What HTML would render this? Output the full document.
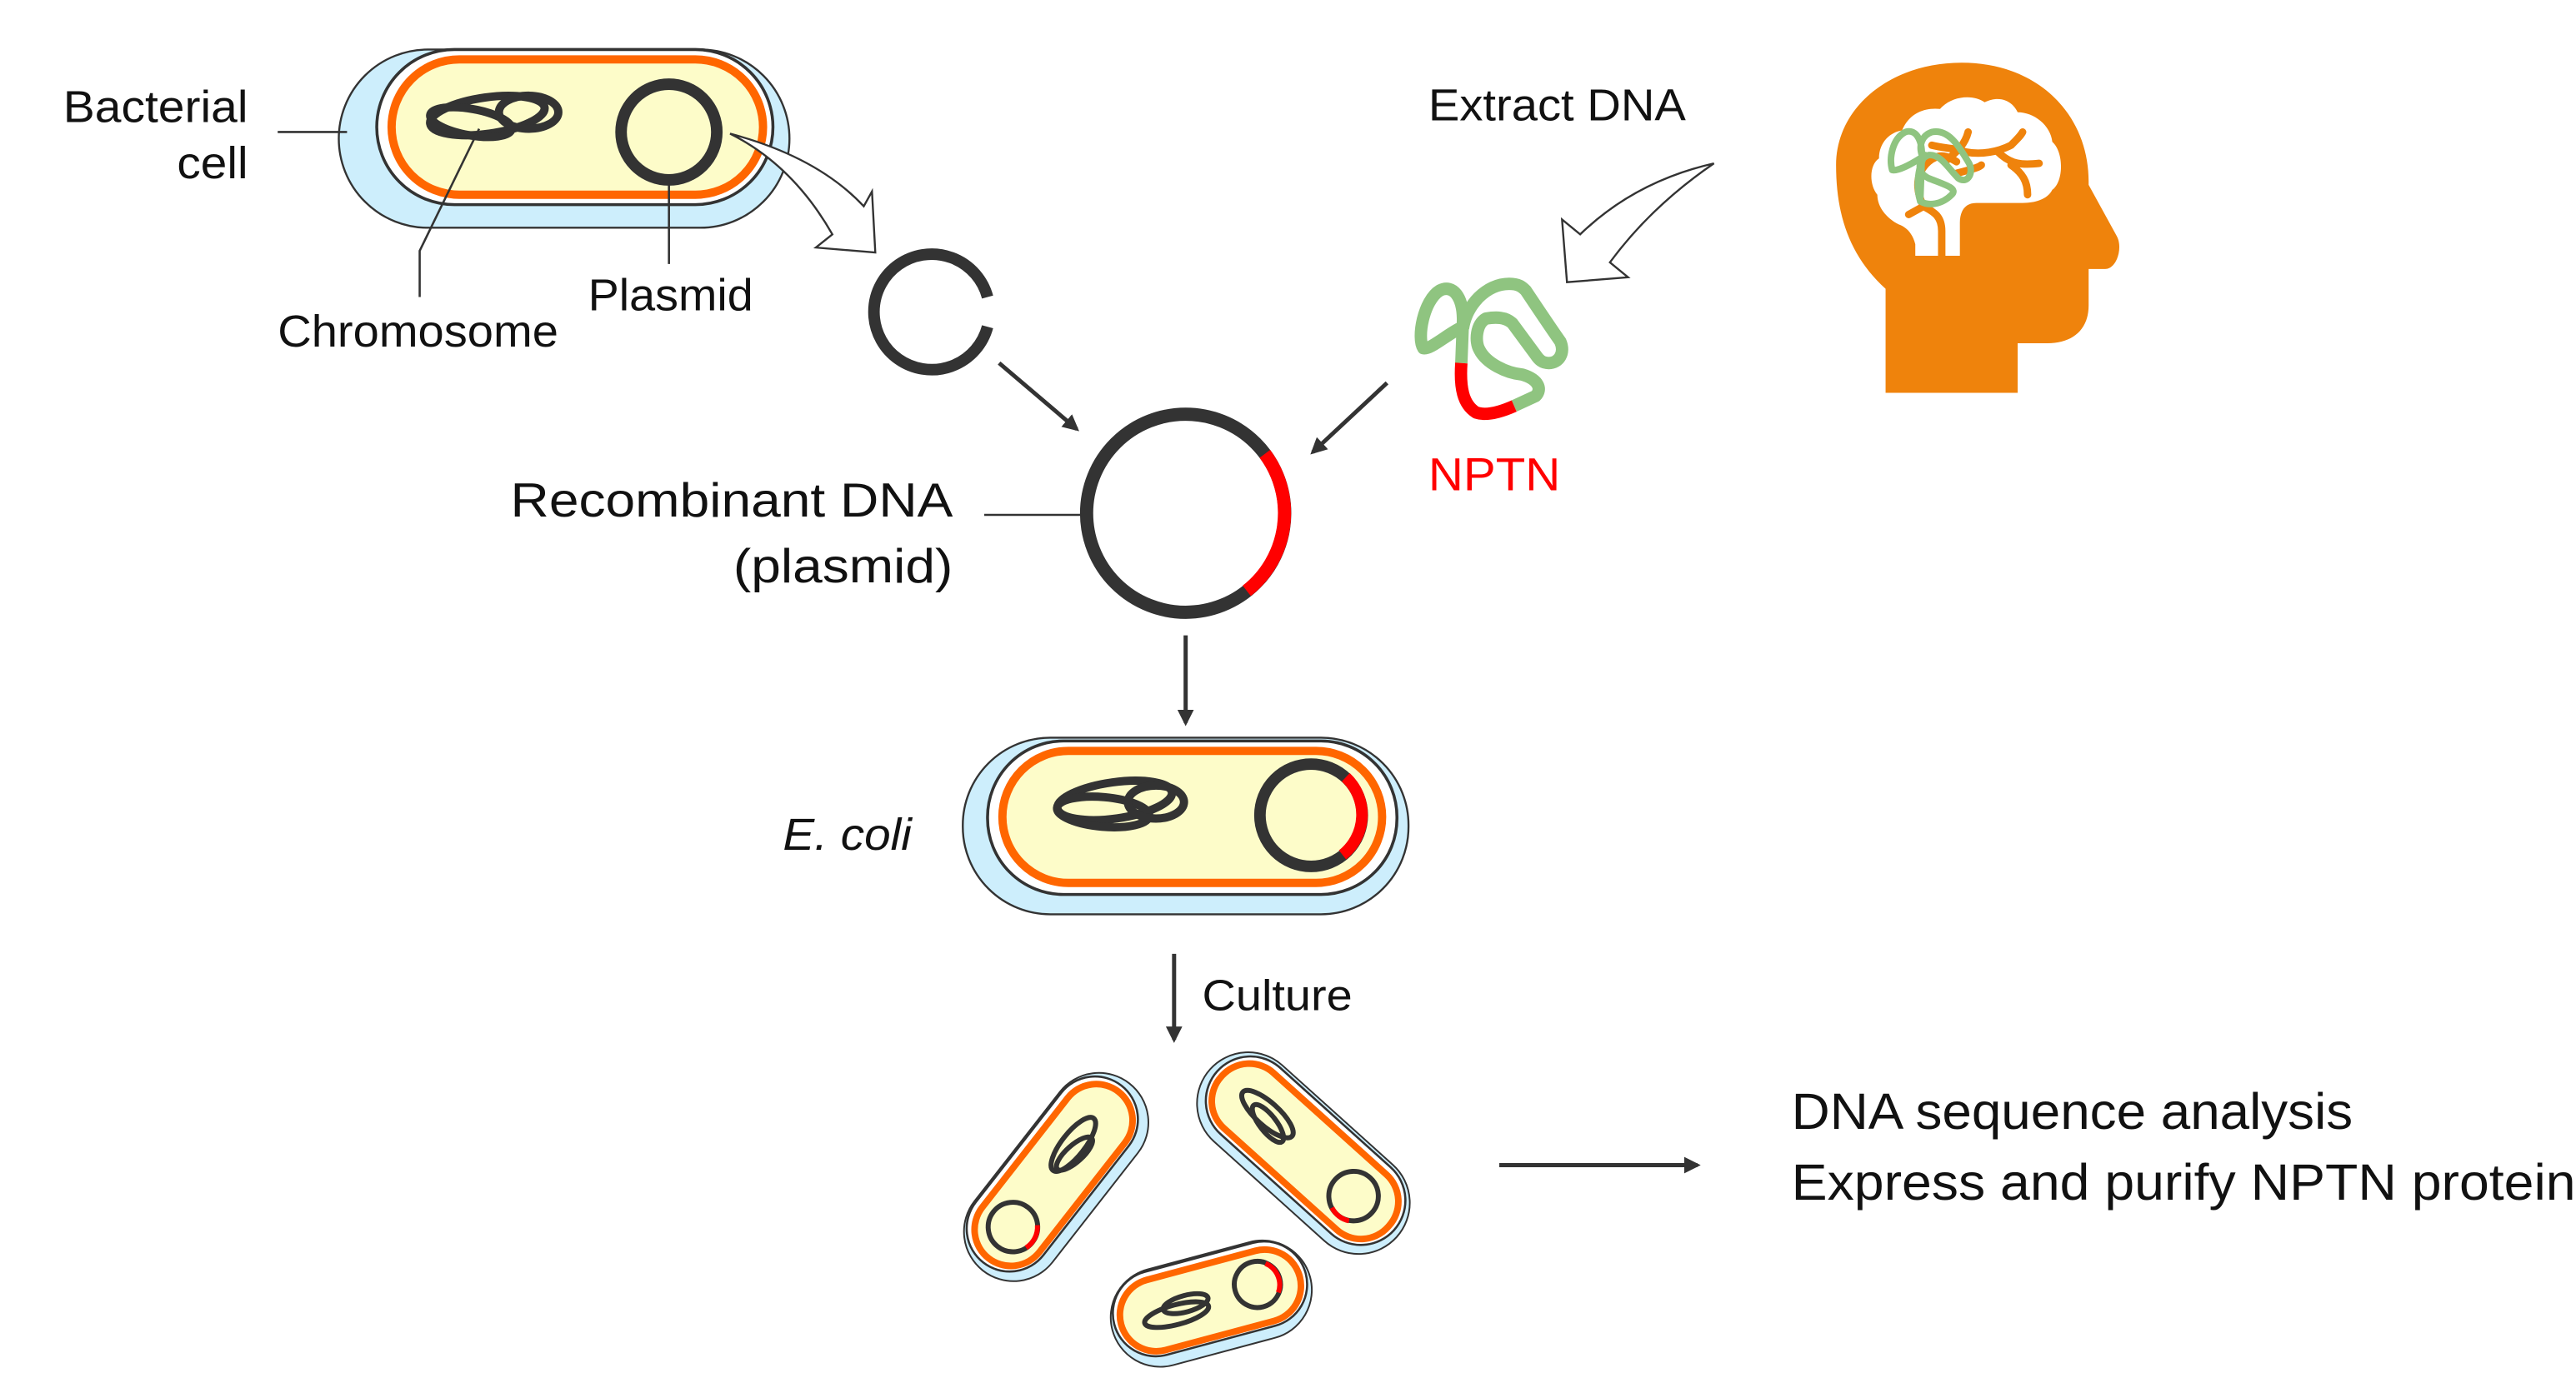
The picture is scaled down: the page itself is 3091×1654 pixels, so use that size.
<!DOCTYPE html>
<html><head><meta charset="utf-8"><style>
html,body{margin:0;padding:0;background:#fff;}
svg{display:block;}
text{font-family:"Liberation Sans",sans-serif;fill:#111;}
</style></head><body>
<svg width="3091" height="1654" viewBox="0 0 1560 835" xmlns="http://www.w3.org/2000/svg">
<defs>
<marker id="ah" markerWidth="10" markerHeight="10" refX="8" refY="5" orient="auto" markerUnits="userSpaceOnUse"><path d="M0,0 L10,5 L0,10 Z" fill="#333"/></marker>
</defs>

<!-- Top bacterial cell -->
<g>
<rect x="205" y="30" width="273" height="108" rx="54" fill="#cdeefc" stroke="#333" stroke-width="1.2"/>
<rect x="228" y="30" width="240" height="94" rx="47" fill="#fff" stroke="#333" stroke-width="1.8"/>
<rect x="237" y="36" width="225" height="82" rx="41" fill="#fdfcc9" stroke="#ff6600" stroke-width="5"/>
<g fill="none" stroke="#333" stroke-width="5">
<ellipse cx="295" cy="70" rx="35" ry="11" transform="rotate(-8 295 70)"/>
<ellipse cx="285" cy="74" rx="25" ry="8" transform="rotate(10 285 74)"/>
<ellipse cx="320" cy="68" rx="18" ry="10"/>
</g>
<circle cx="405" cy="80" r="29" fill="none" stroke="#333" stroke-width="7"/>
</g>
<text x="38" y="74" font-size="27" textLength="112" lengthAdjust="spacingAndGlyphs">Bacterial</text>
<text x="107" y="108" font-size="27" textLength="43" lengthAdjust="spacingAndGlyphs">cell</text>
<line x1="168" y1="80" x2="210" y2="80" stroke="#333" stroke-width="1.3"/>
<text x="168" y="210" font-size="27" textLength="170" lengthAdjust="spacingAndGlyphs">Chromosome</text>
<polyline points="254,180 254,152 290,78" fill="none" stroke="#333" stroke-width="1.3"/>
<text x="356" y="188" font-size="27" textLength="100" lengthAdjust="spacingAndGlyphs">Plasmid</text>
<line x1="405" y1="160" x2="405" y2="110" stroke="#333" stroke-width="1.3"/>

<!-- curved hollow arrow 1 -->
<path d="M442,81 Q495,95 523,125 L528,116 L530,153 L494,150 L504,142 Q480,100 442,81 Z" fill="#fff" stroke="#333" stroke-width="1.2"/>
<!-- open plasmid -->
<path d="M598,180 A35,35 0 1,0 598,198" fill="none" stroke="#333" stroke-width="7"/>
<line x1="605" y1="220" x2="652" y2="260" stroke="#333" stroke-width="2.5" marker-end="url(#ah)"/>

<!-- recombinant plasmid -->
<g fill="none" stroke-width="8">
<circle cx="718" cy="311" r="60" stroke="#333"/>
<path d="M766,275 A60,60 0 0,1 755,358" stroke="#f00"/>
</g>
<text x="309" y="313" font-size="29" textLength="268" lengthAdjust="spacingAndGlyphs">Recombinant DNA</text>
<text x="444" y="353" font-size="29" textLength="133" lengthAdjust="spacingAndGlyphs">(plasmid)</text>
<line x1="596" y1="312" x2="655" y2="312" stroke="#333" stroke-width="1.3"/>
<line x1="840" y1="232" x2="795" y2="274" stroke="#333" stroke-width="2.5" marker-end="url(#ah)"/>

<!-- extract DNA -->
<text x="865" y="73" font-size="27" textLength="156" lengthAdjust="spacingAndGlyphs">Extract DNA</text>
<path d="M1038,99 Q990,110 957,142 L946,133 L949,171 L986,168 L975,159 Q1000,125 1038,99 Z" fill="#fff" stroke="#333" stroke-width="1.2"/>
<g fill="none" stroke-width="7.5" stroke-linecap="butt" stroke-linejoin="round">
<path d="M885,220 L886,194 C886,180 880,172 872,176 C862,182 858,205 862,211 C866,212 876,203 884,199 M886,199 C888,185 900,172 914,172 C920,172 922,174 924,176 C932,188 940,200 945,207 C948,214 944,220 938,220 C934,220 932,218 930,215 L916,196 C912,192 906,192 900,193 C894,196 893,207 896,212 C900,220 912,226 922,227 C932,230 934,236 930,240 L917,246" stroke="#8fc480"/>
<path d="M917,246 C908,250 900,252 894,250 C886,245 884,235 885,220" stroke="#f00"/>
</g>
<text x="865" y="297" font-size="28" textLength="80" lengthAdjust="spacingAndGlyphs" style="fill:#f00">NPTN</text>

<!-- head -->
<g>
<path d="M1142,238 L1142,175 C1120,155 1112,130 1112,100 C1112,65 1145,38 1188,38 C1235,38 1265,70 1265,110 L1265,112 L1282,143 C1286,150 1282,163 1275,163 L1265,163 L1265,185 C1265,200 1255,208 1240,208 L1222,208 L1222,238 Z" fill="#ef830c"/>
<path d="M1160,155 L1160,148 C1158,140 1153,137 1150,136 C1142,132 1137,125 1137,118 C1132,112 1132,100 1138,96 C1138,86 1145,80 1152,79 C1156,69 1165,65 1175,66 C1182,58 1195,57 1202,62 C1210,58 1218,60 1222,68 C1232,68 1242,76 1243,86 C1250,92 1250,110 1243,115 C1240,121 1232,123 1225,123 L1197,123 C1190,123 1187,128 1187,135 L1187,155 Z" fill="#fff"/>
<g fill="none" stroke="#ef830c" stroke-width="4.5" stroke-linecap="round">
<path d="M1176,156 L1176,140 C1176,130 1170,128 1165,125 L1156,130"/>
<path d="M1165,125 C1160,115 1160,105 1168,98 C1175,92 1180,95 1185,98"/>
<path d="M1178,98 C1185,92 1190,88 1192,80 M1170,88 C1178,90 1186,90 1190,92 C1200,94 1210,92 1218,88 C1222,84 1224,82 1225,80"/>
<path d="M1210,92 C1218,100 1225,100 1235,99 M1218,100 C1225,105 1228,110 1228,118"/>
<path d="M1185,105 C1192,103 1198,102 1200,100"/>
</g>
<g fill="none" stroke="#8fc480" stroke-width="4" stroke-linejoin="round">
<path d="M1163,122 C1160,112 1162,100 1166,94 C1160,98 1150,104 1146,103 C1144,96 1146,84 1154,80 C1160,78 1164,84 1164,94 L1163,122 C1168,125 1176,124 1182,118 C1186,114 1178,112 1168,108 C1160,104 1162,96 1168,94 C1175,93 1180,102 1186,108 C1192,112 1196,104 1192,98 C1186,88 1180,78 1170,80 C1164,82 1162,88 1164,94"/>
</g>
</g>

<line x1="718" y1="385" x2="718" y2="438" stroke="#333" stroke-width="2.5" marker-end="url(#ah)"/>

<!-- E. coli -->
<g>
<rect x="583" y="447" width="270" height="107" rx="53" fill="#cdeefc" stroke="#333" stroke-width="1.2"/>
<rect x="598" y="449" width="248" height="93" rx="46" fill="#fff" stroke="#333" stroke-width="1.8"/>
<rect x="607" y="455" width="230" height="80" rx="40" fill="#fdfcc9" stroke="#ff6600" stroke-width="5"/>
<g fill="none" stroke="#333" stroke-width="5">
<ellipse cx="675" cy="485" rx="35" ry="11" transform="rotate(-8 675 485)"/>
<ellipse cx="668" cy="492" rx="28" ry="9" transform="rotate(5 668 492)"/>
<ellipse cx="700" cy="486" rx="17" ry="10"/>
</g>
<circle cx="794" cy="494" r="31" fill="none" stroke="#333" stroke-width="7"/>
<path d="M815,471 A31,31 0 0,1 813,518" fill="none" stroke="#f00" stroke-width="7"/>
</g>
<text x="474" y="515" font-size="27" font-style="italic" textLength="78" lengthAdjust="spacingAndGlyphs">E. coli</text>

<line x1="711" y1="578" x2="711" y2="630" stroke="#333" stroke-width="2.5" marker-end="url(#ah)"/>
<text x="728" y="612" font-size="26" textLength="91" lengthAdjust="spacingAndGlyphs">Culture</text>

<!-- small cells -->
<g transform="translate(638,712) rotate(-52)">
<rect x="-72" y="-28" width="144" height="60" rx="30" fill="#cdeefc" stroke="#333" stroke-width="1"/>
<rect x="-68" y="-27" width="136" height="52" rx="26" fill="#fff" stroke="#333" stroke-width="1.3"/>
<rect x="-64" y="-22" width="128" height="44" rx="22" fill="#fdfcc9" stroke="#ff6600" stroke-width="4"/>
<g fill="none" stroke="#333" stroke-width="3"><ellipse cx="22" cy="-2" rx="20" ry="7"/><ellipse cx="18" cy="2" rx="14" ry="5" transform="rotate(10 18 2)"/></g>
<circle cx="-40" cy="0" r="15" fill="none" stroke="#333" stroke-width="3"/>
<path d="M-45,14 A15,15 0 0,0 -30,11" fill="none" stroke="#f00" stroke-width="3"/>
</g>
<g transform="translate(790,698) rotate(42)">
<rect x="-76" y="-30" width="152" height="62" rx="31" fill="#cdeefc" stroke="#333" stroke-width="1"/>
<rect x="-72" y="-28" width="144" height="54" rx="27" fill="#fff" stroke="#333" stroke-width="1.3"/>
<rect x="-68" y="-23" width="136" height="45" rx="22" fill="#fdfcc9" stroke="#ff6600" stroke-width="4"/>
<g fill="none" stroke="#333" stroke-width="3"><ellipse cx="-32" cy="-2" rx="20" ry="7"/><ellipse cx="-28" cy="2" rx="14" ry="5" transform="rotate(10 -28 2)"/></g>
<circle cx="40" cy="0" r="15" fill="none" stroke="#333" stroke-width="3"/>
<path d="M48,13 A15,15 0 0,1 35,14" fill="none" stroke="#f00" stroke-width="3"/>
</g>
<g transform="translate(733,788) rotate(-15)">
<rect x="-62" y="-28" width="124" height="60" rx="30" fill="#cdeefc" stroke="#333" stroke-width="1"/>
<rect x="-60" y="-27" width="120" height="52" rx="26" fill="#fff" stroke="#333" stroke-width="1.3"/>
<rect x="-56" y="-22" width="112" height="44" rx="22" fill="#fdfcc9" stroke="#ff6600" stroke-width="4"/>
<g fill="none" stroke="#333" stroke-width="3"><ellipse cx="-22" cy="3" rx="20" ry="6"/><ellipse cx="-15" cy="-2" rx="14" ry="5"/></g>
<circle cx="30" cy="-2" r="14" fill="none" stroke="#333" stroke-width="3"/>
<path d="M38,-13 A14,14 0 0,1 41,6" fill="none" stroke="#f00" stroke-width="3"/>
</g>

<line x1="908" y1="706" x2="1028" y2="706" stroke="#333" stroke-width="2.5" marker-end="url(#ah)"/>
<text x="1085" y="684" font-size="31" textLength="340" lengthAdjust="spacingAndGlyphs">DNA sequence analysis</text>
<text x="1085" y="727" font-size="31" textLength="475" lengthAdjust="spacingAndGlyphs">Express and purify NPTN protein</text>
</svg>
</body></html>
